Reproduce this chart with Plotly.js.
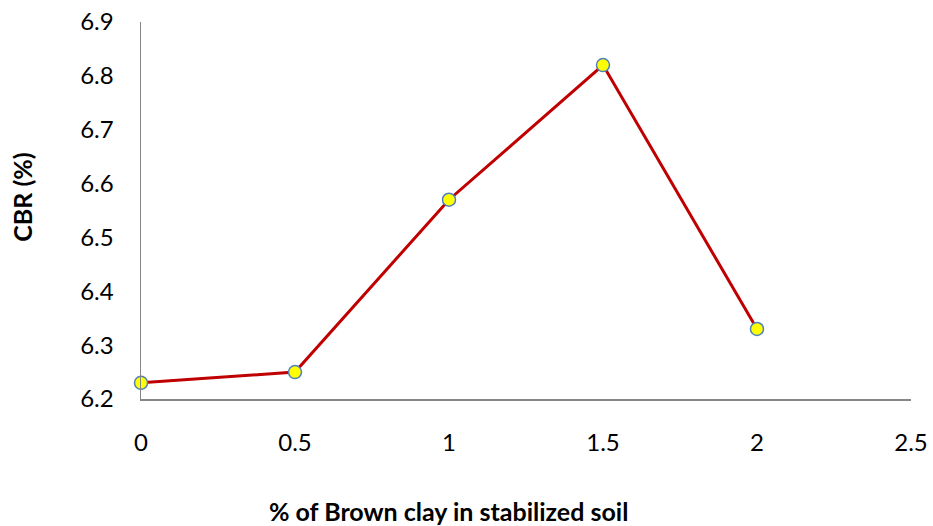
<!DOCTYPE html>
<html>
<head>
<meta charset="utf-8">
<script src="https://cdn.plot.ly/plotly-3.0.1.min.js"></script>
<style>html,body{margin:0;padding:0;background:#fff;}#chart{width:933px;height:526px;}</style>
</head>
<body>
<div id="chart"></div>
<script>
const brownClayPct = [0, 0.5, 1, 1.5, 2];
const cbrValues = [6.23, 6.25, 6.57, 6.82, 6.33];
const xTickVals = [0, 0.5, 1, 1.5, 2, 2.5];
const xTickText = ['0', '0.5', '1', '1.5', '2', '2.5'];
const yTickVals = [6.2, 6.3, 6.4, 6.5, 6.6, 6.7, 6.8, 6.9];
const yTickText = ['6.2', '6.3', '6.4', '6.5', '6.6', '6.7', '6.8', '6.9'];
const xTitle = '% of Brown clay in stabilized soil';
const yTitle = 'CBR (%)';

const trace = {
  x: brownClayPct,
  y: cbrValues,
  type: 'scatter',
  mode: 'lines+markers',
  line: {color: '#C00000', width: 3},
  marker: {color: '#FFFF00', size: 13, line: {color: '#4F81BD', width: 1.5}},
  cliponaxis: false,
  hoverinfo: 'x+y'
};

const layout = {
  width: 933, height: 526,
  margin: {l: 141, r: 22, t: 22, b: 127},
  paper_bgcolor: '#fff', plot_bgcolor: '#fff',
  showlegend: false,
  font: {family: 'Lato, "Open Sans", sans-serif', color: '#000', size: 24},
  xaxis: {
    range: [0, 2.5], tickmode: 'array', tickvals: xTickVals, ticktext: xTickText,
    showgrid: false, zeroline: false, showline: true, linecolor: '#868686', linewidth: 1.5,
    ticks: '', ticklabelstandoff: 22,
    tickfont: {size: 24}
  },
  yaxis: {
    range: [6.2, 6.9], tickmode: 'array', tickvals: yTickVals, ticktext: yTickText,
    showgrid: false, zeroline: false, showline: true, linecolor: '#868686', linewidth: 1.5,
    ticks: '', ticklabelstandoff: 21,
    tickfont: {size: 24}
  },
  annotations: [
    {text: '<b>' + xTitle + '</b>', xref: 'paper', yref: 'paper', x: 0.399, y: -0.298,
     xanchor: 'center', yanchor: 'middle', showarrow: false, font: {size: 25}},
    {text: '<b>' + yTitle + '</b>', xref: 'paper', yref: 'paper', x: -0.154, y: 0.535,
     xanchor: 'center', yanchor: 'middle', textangle: -90, showarrow: false, font: {size: 25}}
  ]
};

Plotly.newPlot('chart', [trace], layout, {displayModeBar: false, staticPlot: true});
</script>
</body>
</html>
